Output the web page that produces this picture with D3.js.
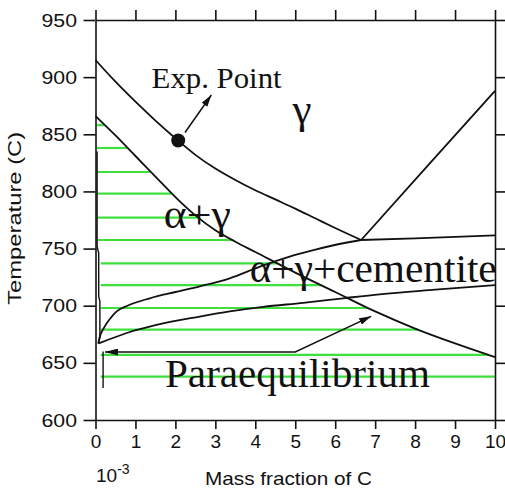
<!DOCTYPE html>
<html>
<head>
<meta charset="utf-8">
<script src="https://cdn.jsdelivr.net/npm/d3@7"></script>
<style>
  html, body { margin: 0; padding: 0; background: #fff; }
  svg { display: block; }
</style>
</head>
<body>
<svg id="chart" width="505" height="489"></svg>
<script>
// Fe–C section: temperature against mass fraction of carbon (x 10^-3),
// with the paraequilibrium region shown by green tie lines.

const xTicks = [0, 1, 2, 3, 4, 5, 6, 7, 8, 9, 10];
const yTicks = [600, 650, 700, 750, 800, 850, 900, 950];

// gamma / alpha+gamma boundary (upper curve)
const gammaBoundary = [[0, 915], [0.5, 896], [1, 878.5], [1.5, 862], [2, 846.5], [2.5, 832],
  [3, 820], [3.5, 810], [4, 801], [4.5, 793], [5, 785], [5.5, 776.5], [6, 768], [6.65, 757.5]];
// paraequilibrium alpha / alpha+gamma boundary
const paraBoundary = [[0, 866], [0.5, 849], [1, 831], [1.5, 813], [2, 795], [2.5, 779], [3, 766],
  [3.5, 756], [4, 747], [5, 729], [6, 712], [7, 695], [8, 680], [9, 667], [10, 655]];
// gamma / gamma+cementite boundary
const cementiteSolvus = [[6.65, 757.5], [8.3, 822], [10, 888]];
// upper limit of the three-phase field on the high-carbon side
const threePhaseUpper = [[6.65, 757.5], [8, 759], [10, 761.5]];
// alpha+gamma / alpha+gamma+cementite boundary
const threePhaseTop = [[0.07, 667], [0.1, 672], [0.2, 680], [0.35, 688], [0.53, 695], [0.8, 700],
  [1.36, 706.5], [2, 712], [2.61, 717], [3.36, 724], [4.1, 734], [4.86, 743], [5.5, 749],
  [6.1, 754], [6.65, 757.5]];
// lower limit of the three-phase field
const threePhaseBottom = [[0.07, 667], [0.3, 670], [0.86, 677], [1.5, 683], [2.61, 690.5],
  [3.36, 695], [4.2, 699], [5.2, 702.5], [6.2, 706.5], [7.11, 710], [8.5, 714], [10, 718]];
// alpha solvus, close to the temperature axis
const alphaSolvus = [[0.04, 835], [0.04, 752], [0.08, 746], [0.08, 708], [0.11, 704],
  [0.11, 672], [0.07, 667]];
const paraLimit = [[0.19, 660], [0.19, 628]];

// tie-line temperatures
const tieTemps = [858, 838, 817, 798, 777, 757.5, 737, 718, 698, 679, 657, 638];

const expPoint = [2.07, 844.5];
const expArrow = [[2.24, 851.6], [2.9, 884.4]];
const paraArrow = [[0.24, 659.5], [5.0, 659.5], [6.9, 690.7]];

const svg = d3.select("#chart");
const x = d3.scaleLinear().domain([0, 10]).range([95.5, 495]);
const y = d3.scaleLinear().domain([600, 950]).range([420, 20]);

const ink = "#111";
const green = "#3ee03e";
const sans = "'Liberation Sans', Arial, Helvetica, sans-serif";
const serif = "'Liberation Serif', 'Times New Roman', Times, serif";

// arrowheads
const defs = svg.append("defs");
function head(id, len, wid) {
  defs.append("marker")
    .attr("id", id)
    .attr("markerUnits", "userSpaceOnUse")
    .attr("viewBox", `0 0 ${len} ${wid}`)
    .attr("refX", len).attr("refY", wid / 2)
    .attr("markerWidth", len).attr("markerHeight", wid)
    .attr("orient", "auto-start-reverse")
    .append("path")
    .attr("d", `M0,0L${len},${wid / 2}L0,${wid}Z`)
    .attr("fill", ink);
}
head("headA", 13, 7);
head("headB", 12, 7);

// tie lines run from the alpha side to the paraequilibrium boundary
const tieEnd = d3.scaleLinear()
  .domain(paraBoundary.map(d => d[1]))
  .range(paraBoundary.map(d => d[0]))
  .clamp(true);

svg.append("g").selectAll("line")
  .data(tieTemps)
  .join("line")
  .attr("x1", t => x(t > 750 ? 0.04 : 0.13))
  .attr("x2", t => x(tieEnd(t)))
  .attr("y1", t => y(t))
  .attr("y2", t => y(t))
  .attr("stroke", green)
  .attr("stroke-width", 2.2);

// phase boundaries
const smooth = d3.line().x(d => x(d[0])).y(d => y(d[1])).curve(d3.curveMonotoneX);
const straight = d3.line().x(d => x(d[0])).y(d => y(d[1]));

const curves = svg.append("g").attr("fill", "none").attr("stroke", ink)
  .attr("stroke-width", 1.8).attr("stroke-linejoin", "round");
[gammaBoundary, paraBoundary, threePhaseTop, threePhaseBottom].forEach(c =>
  curves.append("path").attr("d", smooth(c)));
[cementiteSolvus, threePhaseUpper].forEach(c =>
  curves.append("path").attr("d", straight(c)));
curves.append("path").attr("d", straight(alphaSolvus)).attr("stroke-width", 1.4);
curves.append("path").attr("d", straight(paraLimit)).attr("stroke-width", 1.4);

// region labels
function label(txt, v, t, size, len) {
  return svg.append("text")
    .attr("x", x(v)).attr("y", y(t))
    .attr("font-family", serif)
    .attr("font-size", size)
    .attr("fill", ink)
    .attr("textLength", len)
    .attr("lengthAdjust", "spacingAndGlyphs")
    .text(txt);
}
label("Exp. Point", 1.405, 890.2, 30, 130);
label("γ", 4.93, 859.9, 42, 19);
label("α+γ", 1.71, 768, 40, 67);
label("α+γ+cementite", 3.86, 721, 41, 247);
label("Paraequilibrium", 1.74, 628.9, 41, 265);

// arrows
svg.append("path")
  .attr("d", straight(paraArrow))
  .attr("fill", "none").attr("stroke", ink).attr("stroke-width", 1.5)
  .attr("marker-start", "url(#headA)")
  .attr("marker-end", "url(#headB)");
svg.append("path")
  .attr("d", straight(expArrow))
  .attr("fill", "none").attr("stroke", ink).attr("stroke-width", 1.5)
  .attr("marker-end", "url(#headB)");

// experimental point
svg.append("circle")
  .attr("cx", x(expPoint[0])).attr("cy", y(expPoint[1]))
  .attr("r", 7).attr("fill", ink);

// axes
function styleAxis(g) {
  g.selectAll("path.domain").attr("stroke", ink).attr("stroke-width", 1.6);
  g.selectAll(".tick line").attr("stroke", ink).attr("stroke-width", 1.6);
  g.selectAll(".tick text").attr("fill", ink)
    .attr("font-family", sans).attr("font-size", 19);
}

svg.append("g").attr("transform", `translate(0,${y(600)})`)
  .call(d3.axisBottom(x).tickValues(xTicks).tickSize(9).tickSizeOuter(0)
    .tickPadding(6).tickFormat(d3.format("d")))
  .call(styleAxis);

svg.append("g").attr("transform", `translate(0,${y(950)})`)
  .call(d3.axisTop(x).tickValues(xTicks).tickSize(10).tickSizeOuter(0).tickFormat(""))
  .call(styleAxis);

const gLeft = svg.append("g").attr("transform", `translate(${x(0)},0)`)
  .call(d3.axisLeft(y).tickValues(yTicks).tickSize(12).tickSizeOuter(0)
    .tickFormat(d3.format("d")))
  .call(styleAxis);
gLeft.selectAll(".tick text")
  .attr("x", 0)
  .attr("transform", "translate(-18.5,0) scale(1.12,1)");

svg.append("g").attr("transform", `translate(${x(10)},0)`)
  .call(d3.axisRight(y).tickValues(yTicks).tickSize(10).tickSizeOuter(0).tickFormat(""))
  .call(styleAxis);

// axis titles
const unit = svg.append("text")
  .attr("x", 96).attr("y", 482)
  .attr("font-family", sans).attr("font-size", 19).attr("fill", ink)
  .text("10");
unit.append("tspan").attr("dy", -8).attr("font-size", 14).text("-3");

svg.append("text")
  .attr("x", 205).attr("y", 485)
  .attr("font-family", sans).attr("font-size", 19).attr("fill", ink)
  .attr("textLength", 167).attr("lengthAdjust", "spacingAndGlyphs")
  .text("Mass fraction of C");

svg.append("text")
  .attr("transform", `translate(20.5,${(131.7 + 305) / 2}) rotate(-90)`)
  .attr("text-anchor", "middle")
  .attr("font-family", sans).attr("font-size", 19).attr("fill", ink)
  .attr("textLength", 173).attr("lengthAdjust", "spacingAndGlyphs")
  .text("Temperature (C)");
</script>
</body>
</html>
